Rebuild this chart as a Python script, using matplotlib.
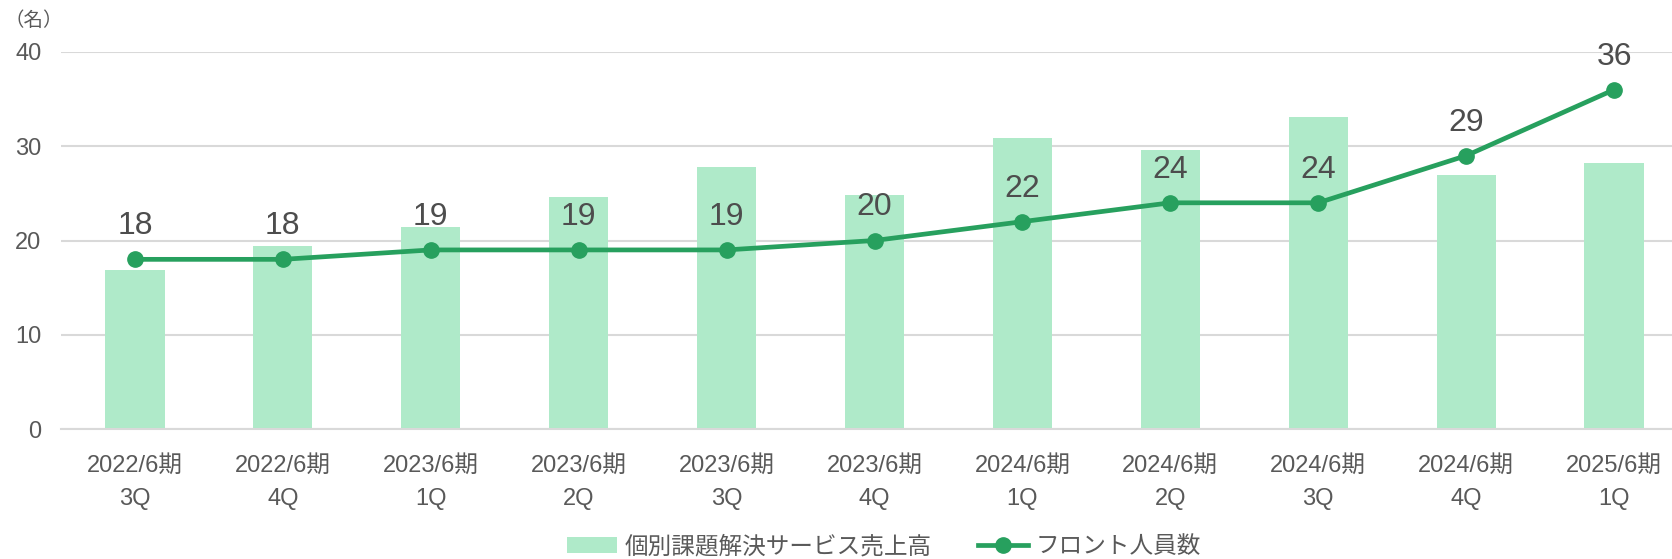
import numpy as np
import matplotlib
matplotlib.use("Agg")
import matplotlib.pyplot as plt

plt.rcParams['font.family'] = ['Liberation Sans', 'Noto Sans CJK JP', 'DejaVu Sans']

# data
periods = ['2022/6期', '2022/6期', '2023/6期', '2023/6期', '2023/6期', '2023/6期',
           '2024/6期', '2024/6期', '2024/6期', '2024/6期', '2025/6期']
quarters = ['3Q', '4Q', '1Q', '2Q', '3Q', '4Q', '1Q', '2Q', '3Q', '4Q', '1Q']
sales = [16.9, 19.4, 21.4, 24.6, 27.8, 24.8, 30.9, 29.6, 33.1, 26.9, 28.2]
staff = [18, 18, 19, 19, 19, 20, 22, 24, 24, 29, 36]

bar_col = '#afeac9'
line_col = '#27a05e'
grid_col = '#d9d9d9'
txt_col = '#595959'

fig = plt.figure(figsize=(16.72, 5.59), dpi=100, facecolor='w')
ax = fig.add_axes([61/1672, 1-429/559, 1627/1672, 377/559])

x = np.arange(len(sales))
labels = [p + '\n' + q for p, q in zip(periods, quarters)]

bars = ax.bar(x, sales, width=0.4, color=bar_col, zorder=2)
line, = ax.plot(x, staff, color=line_col, linewidth=3.4, marker='o', markersize=11,
                zorder=3)
for xi, v in zip(x, staff):
    ax.annotate(str(v), (xi, v), xytext=(0, 13), textcoords='offset points',
                ha='center', va='bottom', fontsize=23, color='#4d4d4d')

ax.set_xlim(-0.5, 10.5)
ax.set_ylim(0, 40)
ax.set_yticks([0, 10, 20, 30, 40])
ax.set_xticks(x)
ax.set_xticklabels(labels, fontsize=17, color=txt_col, linespacing=1.65)
ax.tick_params(axis='y', length=0, pad=14, labelsize=17, labelcolor=txt_col)
ax.tick_params(axis='x', length=0, pad=18.5)
ax.grid(axis='y', color=grid_col, linewidth=1.5, zorder=0)
ax.set_axisbelow(True)
for s in ['top', 'right', 'left']:
    ax.spines[s].set_visible(False)
ax.spines['bottom'].set_color(grid_col)
ax.spines['bottom'].set_linewidth(1.5)

fig.text(4/1672, 1-21/559, '（名）', fontsize=14, color=txt_col, va='center', ha='left')

fig.legend([bars, line], ['個別課題解決サービス売上高', 'フロント人員数'],
           loc='center', bbox_to_anchor=(884/1672, 1-547/559), ncol=2, frameon=False,
           fontsize=17, handlelength=2.1, handletextpad=0.3, columnspacing=2.0,
           labelcolor=txt_col)

plt.savefig('out.png', dpi=100)
